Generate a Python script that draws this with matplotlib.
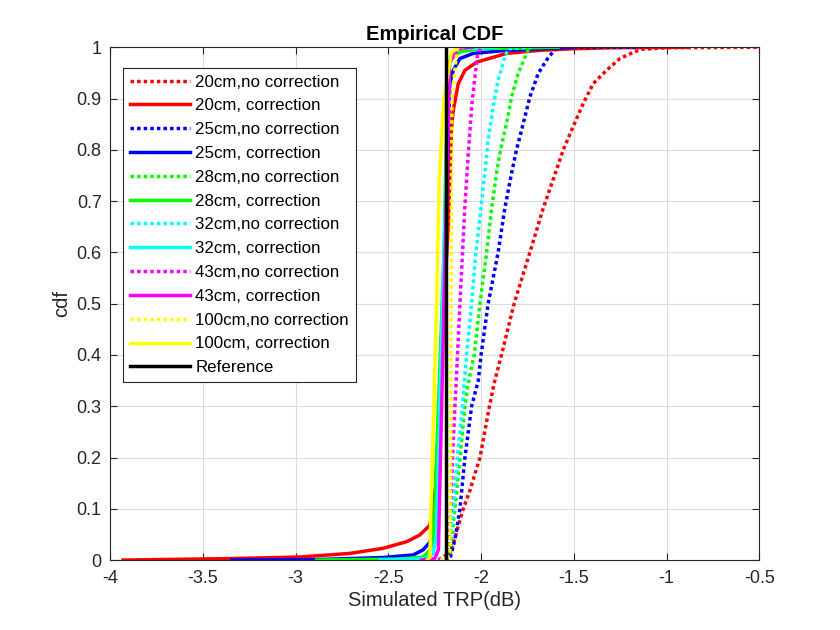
import matplotlib
matplotlib.use("Agg")
import matplotlib.pyplot as plt

plt.rcParams['font.family'] = ['Liberation Sans', 'DejaVu Sans']

# Datos (x = TRP simulado en dB, y = cdf)
x_20_nc = [-2.23, -2.2, -2.177, -2.16, -2.132, -2.096, -2.06, -2.006, -1.955, -1.93, -1.89, -1.822,
           -1.737, -1.665, -1.60, -1.557, -1.504, -1.45, -1.396, -1.324, -1.252, -1.18, -1.135, -1.0, -0.5]
y_20_nc = [0, 0.001, 0.004, 0.02, 0.055, 0.1, 0.136, 0.2, 0.3, 0.344, 0.4, 0.5,
           0.6, 0.686, 0.754, 0.8, 0.845, 0.89, 0.929, 0.955, 0.978, 0.99, 0.996, 0.999, 1.0]

x_20_c = [-3.93, -3.34, -2.976, -2.707, -2.527, -2.40, -2.33, -2.276, -2.258, -2.249, -2.24, -2.2,
          -2.177, -2.168, -2.16, -2.15, -2.123, -2.087, -2.024, -1.863, -1.683, -1.504, -1.3, -0.89]
y_20_c = [0, 0.003, 0.006, 0.013, 0.023, 0.036, 0.049, 0.068, 0.104, 0.13, 0.156, 0.5,
          0.65, 0.75, 0.84, 0.877, 0.929, 0.955, 0.971, 0.988, 0.994, 0.997, 0.999, 1.0]

x_25_nc = [-2.23, -2.168, -2.141, -2.114, -2.087, -2.051, -2.015, -2.0, -1.962, -1.908, -1.872,
           -1.836, -1.809, -1.773, -1.737, -1.692, -1.647, -1.60, -1.575, -1.14]
y_25_nc = [0, 0.002, 0.04, 0.1, 0.2, 0.3, 0.35, 0.4, 0.5, 0.6, 0.686,
           0.754, 0.8, 0.851, 0.903, 0.949, 0.975, 0.997, 1.0, 1.0]

x_25_c = [-3.344, -2.886, -2.527, -2.366, -2.312, -2.276, -2.258, -2.25, -2.2, -2.175, -2.168,
          -2.15, -2.114, -2.042, -1.863, -1.683, -1.5]
y_25_c = [0, 0.001, 0.005, 0.01, 0.02, 0.035, 0.06, 0.1, 0.5, 0.85, 0.929,
          0.955, 0.978, 0.988, 0.994, 0.997, 1.0]

x_28_nc = [-2.23, -2.168, -2.141, -2.114, -2.087, -2.07, -2.037, -2.006, -1.97, -1.943, -1.917,
           -1.895, -1.863, -1.836, -1.8, -1.755, -1.74, -1.575]
y_28_nc = [0, 0.013, 0.1, 0.2, 0.3, 0.344, 0.4, 0.5, 0.6, 0.686, 0.754,
           0.8, 0.851, 0.903, 0.949, 0.988, 1.0, 1.0]

x_28_c = [-2.886, -2.44, -2.31, -2.276, -2.258, -2.25, -2.2, -2.18, -2.168, -2.114, -2.006, -1.6]
y_28_c = [0, 0.002, 0.006, 0.02, 0.039, 0.1, 0.6, 0.93, 0.975, 0.991, 0.997, 1.0]

x_32_nc = [-2.23, -2.177, -2.15, -2.128, -2.1, -2.078, -2.051, -2.028, -2.001, -1.98, -1.962,
           -1.935, -1.908, -1.872, -1.854, -1.72]
y_32_nc = [0, 0.013, 0.1, 0.2, 0.3, 0.4, 0.5, 0.6, 0.686, 0.754, 0.819,
           0.884, 0.936, 0.981, 0.997, 1.0]

x_32_c = [-2.545, -2.294, -2.258, -2.24, -2.2, -2.17, -2.13, -1.9]
y_32_c = [0, 0.003, 0.013, 0.05, 0.6, 0.97, 0.998, 1.0]

x_43_nc = [-2.23, -2.177, -2.164, -2.154, -2.141, -2.127, -2.114, -2.1, -2.087, -2.07, -2.051,
           -2.033, -2.02, -2.0]
y_43_nc = [0, 0.013, 0.1, 0.2, 0.3, 0.4, 0.5, 0.6, 0.692, 0.786, 0.884,
           0.942, 0.984, 1.0]

x_43_c = [-2.32, -2.25, -2.23, -2.2, -2.17, -2.12, -2.05]
y_43_c = [0, 0.003, 0.02, 0.5, 0.97, 0.998, 1.0]

x_100_nc = [-2.22, -2.18, -2.168, -2.164, -2.16, -2.157, -2.13, -2.1]
y_100_nc = [0, 0.005, 0.02, 0.2, 0.7, 0.9, 0.995, 1.0]

x_100_c = [-2.29, -2.276, -2.27, -2.24, -2.225, -2.2, -2.16, -2.12]
y_100_c = [0, 0.005, 0.1, 0.5, 0.75, 0.9, 0.99, 1.0]

x_ref = [-2.19, -2.19]
y_ref = [0, 1]

series = [
    (x_20_nc, y_20_nc, '#ff0000', ':', '20cm,no correction'),
    (x_20_c, y_20_c, '#ff0000', '-', '20cm, correction'),
    (x_25_nc, y_25_nc, '#0000ff', ':', '25cm,no correction'),
    (x_25_c, y_25_c, '#0000ff', '-', '25cm, correction'),
    (x_28_nc, y_28_nc, '#00ff00', ':', '28cm,no correction'),
    (x_28_c, y_28_c, '#00ff00', '-', '28cm, correction'),
    (x_32_nc, y_32_nc, '#00ffff', ':', '32cm,no correction'),
    (x_32_c, y_32_c, '#00ffff', '-', '32cm, correction'),
    (x_43_nc, y_43_nc, '#ff00ff', ':', '43cm,no correction'),
    (x_43_c, y_43_c, '#ff00ff', '-', '43cm, correction'),
    (x_100_nc, y_100_nc, '#ffff00', ':', '100cm,no correction'),
    (x_100_c, y_100_c, '#ffff00', '-', '100cm, correction'),
    (x_ref, y_ref, '#000000', '-', 'Reference'),
]

fig = plt.figure(figsize=(8.4, 6.3), dpi=100)
ax = fig.add_axes([0.131, 0.111, 0.773, 0.814])

for xs, ys, col, ls, lab in series:
    if ls == ':':
        ax.plot(xs, ys, color=col, lw=2.5, linestyle=(0, (1, 0.9)), dash_capstyle='butt', label=lab)
    else:
        ax.plot(xs, ys, color=col, lw=2.5, linestyle='-', label=lab)

ax.set_xlim(-4, -0.5)
ax.set_ylim(0, 1)
ax.set_xticks([-4, -3.5, -3, -2.5, -2, -1.5, -1, -0.5])
ax.set_xticklabels(['-4', '-3.5', '-3', '-2.5', '-2', '-1.5', '-1', '-0.5'])
ax.set_yticks([i / 10 for i in range(11)])
ax.set_yticklabels(['0', '0.1', '0.2', '0.3', '0.4', '0.5', '0.6', '0.7', '0.8', '0.9', '1'])
ax.grid(True, color='#dcdcdc', lw=0.8)
ax.tick_params(direction='in', length=4.8, width=0.8, top=True, right=True,
               labelsize=13, colors='#262626')
ax.tick_params(axis='x', pad=7)
ax.tick_params(axis='y', pad=6)
for s in ax.spines.values():
    s.set_color('#262626')
    s.set_linewidth(0.8)

ax.set_title('Empirical CDF', fontsize=14.5, fontweight='bold', pad=5)
ax.set_xlabel('Simulated TRP(dB)', fontsize=14.5, color='#262626', labelpad=3)
ax.set_ylabel('cdf', fontsize=14.5, color='#262626')

leg = ax.legend(loc='upper left', bbox_to_anchor=(0.0205, 0.96), borderaxespad=0,
                fontsize=12.2, handlelength=3.55, handletextpad=0.3, labelspacing=0.52,
                borderpad=0.4, fancybox=False, framealpha=1, edgecolor='#262626')
leg.get_frame().set_linewidth(0.8)

fig.savefig('out.png', dpi=100)
